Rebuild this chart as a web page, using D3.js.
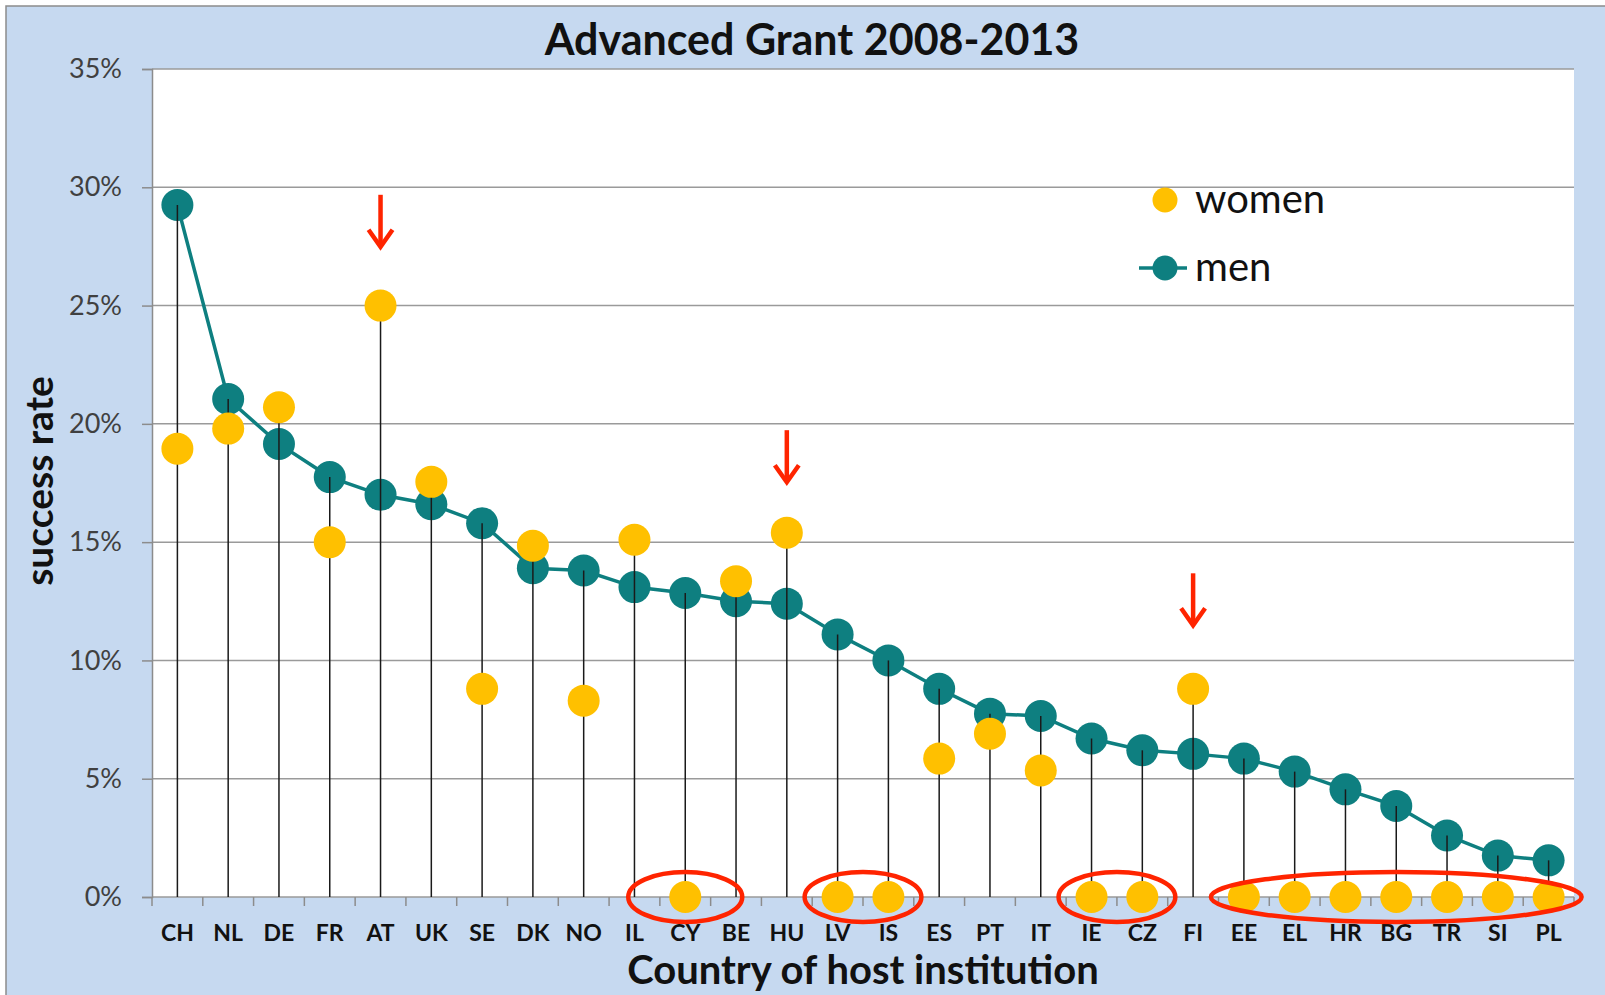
<!DOCTYPE html>
<html>
<head>
<meta charset="utf-8">
<script src="https://cdn.jsdelivr.net/npm/d3@7"></script>
<style>
  body { margin: 0; background: #fff; }
  text { font-family: Lato, "Noto Sans", sans-serif; }
</style>
</head>
<body>
<div id="chart"></div>
<script>
var W = 1605, H = 995;
var margin = {top: 69, left: 152, right: 31, bottom: 98};

// data
var countries = ["CH","NL","DE","FR","AT","UK","SE","DK","NO","IL","CY","BE","HU","LV",
                 "IS","ES","PT","IT","IE","CZ","FI","EE","EL","HR","BG","TR","SI","PL"];
var men = [29.25, 21.05, 19.15, 17.75, 17.0, 16.6, 15.8, 13.9, 13.8, 13.1, 12.85, 12.5, 12.4, 11.1,
           10.0, 8.8, 7.75, 7.65, 6.7, 6.2, 6.05, 5.85, 5.3, 4.55, 3.85, 2.6, 1.75, 1.55];
var women = [18.95, 19.8, 20.7, 15.0, 25.0, 17.55, 8.8, 14.85, 8.3, 15.1, 0, 13.35, 15.4, 0,
             0, 5.85, 6.9, 5.35, 0, 0, 8.8, 0, 0, 0, 0, 0, 0, 0];
var yTicks = [0, 5, 10, 15, 20, 25, 30, 35];

// annotations
var circledGroups = [["CY","CY"], ["LV","IS"], ["IE","CZ"], ["EE","PL"]];
var arrowCountries = ["AT", "HU", "FI"];
var arrowTips = [27.4, 17.45, 11.4];

var teal = "#0e7f80", gold = "#ffc000", red = "#ff2400";

var svg = d3.select("#chart").append("svg")
  .attr("width", W).attr("height", H);

// chart background
svg.append("rect").attr("width", W).attr("height", H).attr("fill", "#fff");
svg.append("rect")
  .attr("x", 6).attr("y", 6).attr("width", W + 10).attr("height", H + 10)
  .attr("fill", "#c6d9f0").attr("stroke", "#8c8c8c").attr("stroke-width", 1.5);

var x = d3.scaleBand().domain(countries).range([margin.left, W - margin.right]);
var y = d3.scaleLinear().domain([0, 35]).range([H - margin.bottom, margin.top]);
var cx = function(c) { return x(c) + x.bandwidth() / 2; };

// plot area
svg.append("rect")
  .attr("x", margin.left).attr("y", margin.top)
  .attr("width", W - margin.right - margin.left)
  .attr("height", y(0) - margin.top)
  .attr("fill", "#fff");

// gridlines
svg.append("g").selectAll("line").data(yTicks).enter().append("line")
  .attr("x1", margin.left).attr("x2", W - margin.right)
  .attr("y1", function(d) { return y(d); }).attr("y2", function(d) { return y(d); })
  .attr("stroke", "#9a9a9a").attr("stroke-width", 1.5);

// y axis
var yAxis = svg.append("g")
  .attr("transform", "translate(" + margin.left + ",0)")
  .call(d3.axisLeft(y).tickValues(yTicks).tickSize(10).tickPadding(20)
    .tickFormat(function(d) { return d + "%"; }));
yAxis.select(".domain").attr("stroke", "#8c8c8c").attr("stroke-width", 1.5);
yAxis.selectAll(".tick line").attr("stroke", "#8c8c8c").attr("stroke-width", 1.5);
yAxis.selectAll("text").style("font-size", "27px").attr("fill", "#404040")
  .style("font-family", "Lato, sans-serif");

// x axis
var xAxis = svg.append("g")
  .attr("transform", "translate(0," + y(0) + ")")
  .call(d3.axisBottom(x).tickSize(0).tickPadding(28));
xAxis.select(".domain").remove();
xAxis.selectAll("text").style("font-size", "23px").style("font-weight", "bold")
  .attr("fill", "#111").style("font-family", "Lato, sans-serif");

var bounds = countries.map(function(c) { return x(c); }).concat([x.range()[1]]);
svg.append("g").selectAll("line").data(bounds).enter().append("line")
  .attr("x1", function(d) { return d; }).attr("x2", function(d) { return d; })
  .attr("y1", y(0)).attr("y2", y(0) + 9)
  .attr("stroke", "#8c8c8c").attr("stroke-width", 1.5);

// men line + markers
var line = d3.line()
  .x(function(d, i) { return cx(countries[i]); })
  .y(function(d) { return y(d); });
svg.append("path").datum(men)
  .attr("d", line).attr("fill", "none")
  .attr("stroke", teal).attr("stroke-width", 3.5);
svg.append("g").selectAll("circle").data(men).enter().append("circle")
  .attr("cx", function(d, i) { return cx(countries[i]); })
  .attr("cy", function(d) { return y(d); })
  .attr("r", 16).attr("fill", teal);

// drop lines
svg.append("g").selectAll("line").data(countries).enter().append("line")
  .attr("x1", function(c) { return cx(c); }).attr("x2", function(c) { return cx(c); })
  .attr("y1", function(c, i) { return y(Math.max(men[i], women[i])); })
  .attr("y2", y(0))
  .attr("stroke", "#1a1a1a").attr("stroke-width", 1.5);

// women markers
svg.append("g").selectAll("circle").data(women).enter().append("circle")
  .attr("cx", function(d, i) { return cx(countries[i]); })
  .attr("cy", function(d) { return y(d); })
  .attr("r", 16).attr("fill", gold);

// red ellipses
svg.append("g").selectAll("ellipse").data(circledGroups).enter().append("ellipse")
  .attr("cx", function(g) { return (cx(g[0]) + cx(g[1])) / 2; })
  .attr("cy", y(0))
  .attr("rx", function(g) { return Math.max((cx(g[1]) - cx(g[0])) / 2 + 33, 57); })
  .attr("ry", 25)
  .attr("fill", "none").attr("stroke", red).attr("stroke-width", 4.5);

// red arrows
var arrows = svg.append("g").selectAll("g").data(arrowCountries).enter().append("g")
  .attr("transform", function(c, i) { return "translate(" + cx(c) + "," + y(arrowTips[i]) + ")"; });
arrows.append("line").attr("x1", 0).attr("x2", 0).attr("y1", -54).attr("y2", -3)
  .attr("stroke", red).attr("stroke-width", 4.5);
arrows.append("path").attr("d", "M-12,-19 L0,-2 L12,-19")
  .attr("fill", "none").attr("stroke", red).attr("stroke-width", 4.5)
  .attr("stroke-linejoin", "miter");

// title & axis titles
svg.append("text").attr("x", 812).attr("y", 55).attr("text-anchor", "middle")
  .style("font-size", "43px").style("font-weight", "bold").attr("fill", "#111")
  .text("Advanced Grant 2008-2013");
svg.append("text").attr("transform", "translate(53,481) rotate(-90)")
  .attr("text-anchor", "middle")
  .style("font-size", "39px").style("font-weight", "bold").attr("fill", "#111")
  .text("success rate");
svg.append("text").attr("x", 863).attr("y", 984).attr("text-anchor", "middle")
  .style("font-size", "40px").style("font-weight", "bold").attr("fill", "#111")
  .text("Country of host institution");

// legend
var lg = svg.append("g").attr("transform", "translate(1165,0)");
lg.append("circle").attr("cx", 0).attr("cy", 200).attr("r", 12.5).attr("fill", gold);
lg.append("text").attr("x", 30).attr("y", 213).style("font-size", "40px").attr("fill", "#111").text("women");
lg.append("line").attr("x1", -26).attr("x2", 22).attr("y1", 268).attr("y2", 268)
  .attr("stroke", teal).attr("stroke-width", 3.5);
lg.append("circle").attr("cx", 0).attr("cy", 268).attr("r", 12.5).attr("fill", teal);
lg.append("text").attr("x", 30).attr("y", 281).style("font-size", "40px").attr("fill", "#111").text("men");
</script>
</body>
</html>
